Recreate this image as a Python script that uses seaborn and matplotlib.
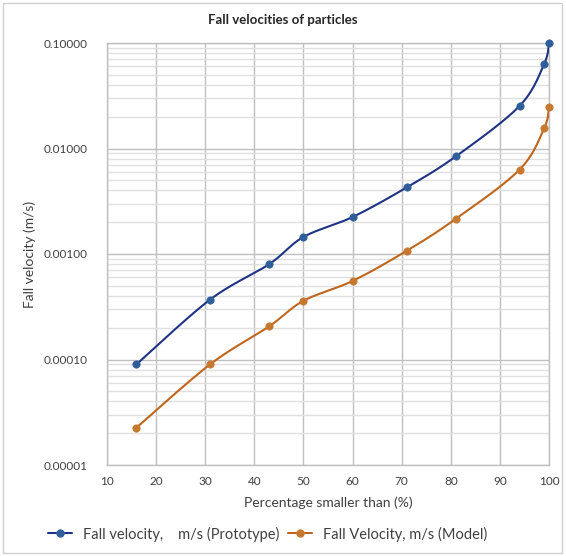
import numpy as np
import pandas as pd
import seaborn as sns
import matplotlib.pyplot as plt
from matplotlib.lines import Line2D
from matplotlib.patches import Rectangle
from matplotlib.ticker import LogLocator, FormatStrFormatter, NullFormatter

# percentage smaller than (%)
percent = [16, 31, 43, 50, 60, 71, 81, 94, 99, 100]
# fall velocities (m/s)
v_prototype = [0.00009, 0.00037, 0.0008, 0.00145, 0.00224, 0.00427, 0.0084, 0.0253, 0.063, 0.1]
v_model = [0.0000226, 0.00009, 0.000206, 0.00036, 0.000555, 0.00107, 0.00215, 0.0063, 0.0155, 0.0245]

lbl_proto = "Fall velocity,    m/s (Prototype)"
lbl_model = "Fall Velocity, m/s (Model)"

line_blue, dot_blue = "#1f3385", "#2f5f9a"
line_orange, dot_orange = "#c0651c", "#c6782f"


def smooth(xs, ys, n=30):
    # catmull-rom through the points, in log space (like Excel's smoothed line)
    p = np.column_stack([xs, np.log10(ys)]).astype(float)
    p = np.vstack([p[0], p, p[-1]])
    out = []
    t = np.linspace(0, 1, n, endpoint=False)[:, None]
    for i in range(1, len(p) - 2):
        p0, p1, p2, p3 = p[i - 1], p[i], p[i + 1], p[i + 2]
        seg = 0.5 * ((2 * p1) + (-p0 + p2) * t + (2 * p0 - 5 * p1 + 4 * p2 - p3) * t ** 2
                     + (-p0 + 3 * p1 - 3 * p2 + p3) * t ** 3)
        out.append(seg)
    out.append(p[-2][None, :])
    out = np.vstack(out)
    return out[:, 0], 10 ** out[:, 1]


sns.set_theme(style="white")
plt.rcParams['font.family'] = ['Lato', 'DejaVu Sans']

fig = plt.figure(figsize=(5.66, 5.56), dpi=100)
ax = fig.add_axes([107 / 566, 1 - 465 / 556, 442 / 566, 422 / 556])

for xs, ys, lc, mc in [(percent, v_prototype, line_blue, dot_blue),
                       (percent, v_model, line_orange, dot_orange)]:
    sx, sy = smooth(xs, ys)
    curve = pd.DataFrame({"x": sx, "y": sy})
    sns.lineplot(data=curve, x="x", y="y", sort=False, color=lc, lw=1.5, ax=ax, zorder=3)
    pts = pd.DataFrame({"x": xs, "y": ys})
    sns.scatterplot(data=pts, x="x", y="y", color=mc, s=28, edgecolor=mc, linewidth=0.5,
                    ax=ax, zorder=4, clip_on=False)

ax.set_yscale("log")
ax.set_xlim(10, 100)
ax.set_ylim(0.00001, 0.1)
ax.set_xticks(range(10, 101, 10))
ax.yaxis.set_major_locator(LogLocator(base=10))
ax.yaxis.set_minor_locator(LogLocator(base=10, subs=np.arange(2, 10)))
ax.yaxis.set_major_formatter(FormatStrFormatter("%.5f"))
ax.yaxis.set_minor_formatter(NullFormatter())
ax.grid(which="major", color="#bfbfbf", lw=1.0)
ax.grid(which="minor", axis="y", color="#e0e0e0", lw=1.0)
ax.set_axisbelow(True)
for s in ax.spines.values():
    s.set_color("#bfbfbf")
    s.set_linewidth(1.0)
ax.tick_params(which="both", length=0, labelsize=8.5, colors="#404040", pad=14)
ax.tick_params(axis="x", pad=8)
ax.set_xlabel("")
ax.set_ylabel("")

fig.text(0.5, 1 - 20 / 556, "Fall velocities of particles", ha="center", va="center",
         fontsize=9.5, fontweight="bold", color="#262626")
fig.text(328 / 566, 1 - 503 / 556, "Percentage smaller than (%)", ha="center", va="center",
         fontsize=10, color="#404040")
fig.text(30 / 566, 1 - 254 / 556, "Fall velocity (m/s)", ha="center", va="center",
         rotation=90, fontsize=10, color="#404040")

handles = [Line2D([], [], color=line_blue, lw=1.5, marker="o", markersize=5,
                  markerfacecolor=dot_blue, markeredgecolor=dot_blue),
           Line2D([], [], color=line_orange, lw=1.5, marker="o", markersize=5,
                  markerfacecolor=dot_orange, markeredgecolor=dot_orange)]
fig.legend(handles, [lbl_proto, lbl_model], loc="center", bbox_to_anchor=(268 / 566, 1 - 534 / 556),
           ncol=2, frameon=False, fontsize=10.5, handlelength=1.6, handletextpad=0.8,
           columnspacing=0.6, labelcolor="#404040")

fig.patches.append(Rectangle((3 / 566, 3 / 556), 559 / 566, 550 / 556, transform=fig.transFigure,
                             fill=False, edgecolor="#d0d0d0", lw=1.0))

fig.savefig("out.png", dpi=100)
